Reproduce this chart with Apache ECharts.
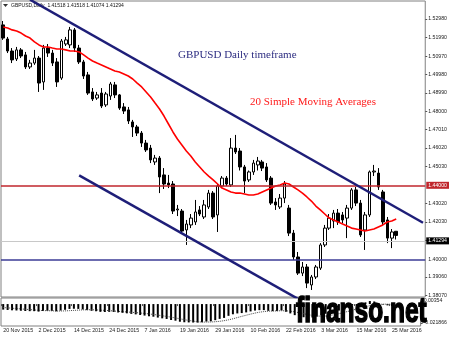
<!DOCTYPE html>
<html>
<head>
    <meta charset="utf-8">
    <style type="text/css">
        html,body { margin: 0px; padding: 0px; background: #fff; }
        #main { width: 450px; height: 337px; }
    </style>
    <script src="https://cdn.jsdelivr.net/npm/echarts@6/dist/echarts.min.js"></script>
</head>
<body>
<div id="main"></div>
<script type="text/javascript">
// trading days shown on the chart
var dates = ['20 Nov 2015','23 Nov 2015','24 Nov 2015','25 Nov 2015','26 Nov 2015','27 Nov 2015','30 Nov 2015',
    '1 Dec 2015','2 Dec 2015','3 Dec 2015','4 Dec 2015','7 Dec 2015','8 Dec 2015','9 Dec 2015','10 Dec 2015','11 Dec 2015',
    '14 Dec 2015','15 Dec 2015','16 Dec 2015','17 Dec 2015','18 Dec 2015','21 Dec 2015','22 Dec 2015','23 Dec 2015','24 Dec 2015',
    '28 Dec 2015','29 Dec 2015','30 Dec 2015','31 Dec 2015',
    '4 Jan 2016','5 Jan 2016','6 Jan 2016','7 Jan 2016','8 Jan 2016','11 Jan 2016','12 Jan 2016','13 Jan 2016','14 Jan 2016',
    '15 Jan 2016','18 Jan 2016','19 Jan 2016','20 Jan 2016','21 Jan 2016','22 Jan 2016','25 Jan 2016','26 Jan 2016','27 Jan 2016',
    '28 Jan 2016','29 Jan 2016',
    '1 Feb 2016','2 Feb 2016','3 Feb 2016','4 Feb 2016','5 Feb 2016','8 Feb 2016','9 Feb 2016','10 Feb 2016','11 Feb 2016',
    '12 Feb 2016','15 Feb 2016','16 Feb 2016','17 Feb 2016','18 Feb 2016','19 Feb 2016','22 Feb 2016','23 Feb 2016','24 Feb 2016',
    '25 Feb 2016','26 Feb 2016','29 Feb 2016',
    '1 Mar 2016','2 Mar 2016','3 Mar 2016','4 Mar 2016','7 Mar 2016','8 Mar 2016','9 Mar 2016','10 Mar 2016','11 Mar 2016',
    '14 Mar 2016','15 Mar 2016','16 Mar 2016','17 Mar 2016','18 Mar 2016','21 Mar 2016','22 Mar 2016','23 Mar 2016','24 Mar 2016',
    '25 Mar 2016'];
// empty space on the right (chart shift)
var futureDates = ['28 Mar 2016','29 Mar 2016','30 Mar 2016','31 Mar 2016','1 Apr 2016','4 Apr 2016'];

var opens = [1.5266,1.5190,1.5125,1.5082,1.5131,1.5104,1.5039,1.5060,1.5087,1.4958,1.5141,1.5114,1.5066,1.4979,1.5163,
    1.5158,1.5239,1.5141,1.5066,1.4996,1.4904,1.4871,1.4898,1.4834,1.4882,1.4942,1.4888,1.4823,1.4807,1.4742,1.4715,
    1.4682,1.4628,1.4601,1.4526,1.4547,1.4456,1.4412,1.4407,1.4267,1.4261,1.4159,1.4186,1.4202,1.4267,1.4229,1.4283,
    1.4358,1.4240,1.4396,1.4439,1.4402,1.4601,1.4585,1.4499,1.4429,1.4472,1.4510,1.4526,1.4499,1.4439,1.4310,1.4283,
    1.4331,1.4277,1.4142,1.4013,1.3926,1.3959,1.3862,1.3905,1.3953,1.4078,1.4169,1.4207,1.4250,1.4240,1.4223,1.4277,
    1.4375,1.4304,1.4159,1.4240,1.4472,1.4466,1.4364,1.4213,1.4115,1.41518];
var highs = [1.5287,1.5201,1.5141,1.5147,1.5141,1.5120,1.5077,1.5131,1.5098,1.5158,1.5163,1.5131,1.5087,1.5190,1.5201,
    1.5255,1.5249,1.5158,1.5077,1.5012,1.4925,1.4904,1.4925,1.4904,1.4958,1.4958,1.4893,1.4844,1.4823,1.4753,1.4726,
    1.4693,1.4645,1.4618,1.4564,1.4558,1.4493,1.4456,1.4423,1.4294,1.4272,1.4213,1.4245,1.4321,1.4288,1.4321,1.4375,
    1.4369,1.4407,1.4450,1.4450,1.4655,1.4672,1.4601,1.4510,1.4480,1.4537,1.4553,1.4537,1.4520,1.4450,1.4331,1.4353,
    1.4423,1.4294,1.4159,1.4040,1.3986,1.3975,1.3916,1.3970,1.4088,1.4186,1.4245,1.4267,1.4272,1.4256,1.4294,1.4385,
    1.4391,1.4321,1.4256,1.4480,1.4510,1.4493,1.4375,1.4229,1.4164,1.41518];
var lows = [1.5185,1.5114,1.5060,1.5071,1.5087,1.5028,1.5028,1.5050,1.4904,1.4915,1.5093,1.5044,1.4931,1.4969,1.5152,
    1.5141,1.5120,1.5055,1.4974,1.4888,1.4855,1.4861,1.4817,1.4823,1.4861,1.4871,1.4807,1.4785,1.4731,1.4661,1.4666,
    1.4607,1.4580,1.4520,1.4510,1.4358,1.4380,1.4385,1.4245,1.4234,1.4137,1.4078,1.4169,1.4186,1.4234,1.4218,1.4272,
    1.4218,1.4148,1.4385,1.4396,1.4391,1.4569,1.4480,1.4358,1.4418,1.4456,1.4480,1.4477,1.4418,1.4294,1.4267,1.4272,
    1.4304,1.4126,1.3997,1.3916,1.3910,1.3845,1.3835,1.3894,1.3943,1.4067,1.4159,1.4169,1.4186,1.4196,1.4115,1.4267,
    1.4288,1.4121,1.4051,1.4229,1.4450,1.4375,1.4186,1.4088,1.4061,1.41074];
var closes = [1.5195,1.5125,1.5077,1.5131,1.5098,1.5039,1.5060,1.5087,1.4952,1.5141,1.5114,1.5060,1.4958,1.5179,1.5185,
    1.5239,1.5141,1.5066,1.4990,1.4898,1.4866,1.4888,1.4828,1.4893,1.4947,1.4888,1.4817,1.4801,1.4747,1.4715,1.4682,
    1.4628,1.4591,1.4537,1.4547,1.4445,1.4407,1.4402,1.4261,1.4272,1.4153,1.4191,1.4223,1.4256,1.4245,1.4294,1.4358,
    1.4229,1.4396,1.4439,1.4407,1.4601,1.4580,1.4499,1.4423,1.4472,1.4520,1.4531,1.4493,1.4429,1.4304,1.4294,1.4331,
    1.4407,1.4142,1.4013,1.3926,1.3959,1.3872,1.3905,1.3959,1.4078,1.4169,1.4223,1.4250,1.4202,1.4213,1.4277,1.4375,
    1.4304,1.4132,1.4240,1.4472,1.4477,1.4391,1.4202,1.4115,1.4148,1.41294];
// 20 SMA
var sma20 = [1.5255,1.5249,1.5239,1.5233,1.5222,1.5206,1.5195,1.5174,1.5158,1.5147,1.5147,1.5141,1.5136,1.5136,1.5131,
    1.5125,1.5125,1.5120,1.5104,1.5087,1.5071,1.5060,1.5050,1.5039,1.5028,1.5017,1.5012,1.5001,1.4990,1.4974,1.4952,
    1.4931,1.4904,1.4877,1.4844,1.4812,1.4774,1.4731,1.4688,1.4650,1.4618,1.4585,1.4558,1.4526,1.4499,1.4472,1.4450,
    1.4429,1.4407,1.4385,1.4375,1.4364,1.4358,1.4358,1.4353,1.4348,1.4348,1.4353,1.4364,1.4375,1.4385,1.4396,1.4402,
    1.4412,1.4407,1.4391,1.4375,1.4358,1.4337,1.4315,1.4288,1.4267,1.4245,1.4223,1.4213,1.4202,1.4191,1.4180,1.4169,
    1.4164,1.4159,1.4153,1.4159,1.4164,1.4175,1.4186,1.4202,1.4207,1.4218];
// oscillator sub-window
var oscHist = [-0.0064,-0.0068,-0.0072,-0.0074,-0.0077,-0.0080,-0.0082,-0.0082,-0.0087,-0.0080,-0.0078,-0.0079,-0.0084,
    -0.0074,-0.0066,-0.0056,-0.0054,-0.0056,-0.0062,-0.0070,-0.0078,-0.0083,-0.0090,-0.0092,-0.0090,-0.0092,-0.0097,
    -0.0101,-0.0107,-0.0113,-0.0119,-0.0126,-0.0133,-0.0141,-0.0146,-0.0156,-0.0165,-0.0172,-0.0184,-0.0192,-0.0204,
    -0.0210,-0.0212,-0.0213,-0.0214,-0.0210,-0.0202,-0.0199,-0.0186,-0.0171,-0.0160,-0.0136,-0.0118,-0.0108,-0.0104,
    -0.0096,-0.0085,-0.0075,-0.0070,-0.0070,-0.0078,-0.0082,-0.0081,-0.0074,-0.0089,-0.0108,-0.0128,-0.0139,-0.0152,
    -0.0157,-0.0155,-0.0145,-0.0129,-0.0112,-0.0095,-0.0085,-0.0075,-0.0063,-0.0030,-0.0018,-0.0020,-0.0012,0.0020,
    0.0035,0.0030,0.0012,-0.0006,-0.0015,-0.0022];
var oscSignal = [-0.0040,-0.0044,-0.0048,-0.0052,-0.0056,-0.0060,-0.0064,-0.0068,-0.0072,-0.0075,-0.0077,-0.0078,-0.0080,
    -0.0080,-0.0079,-0.0076,-0.0073,-0.0070,-0.0067,-0.0066,-0.0066,-0.0068,-0.0070,-0.0073,-0.0076,-0.0080,-0.0084,
    -0.0088,-0.0091,-0.0095,-0.0099,-0.0103,-0.0108,-0.0114,-0.0120,-0.0127,-0.0135,-0.0143,-0.0151,-0.0160,-0.0170,
    -0.0180,-0.0189,-0.0197,-0.0204,-0.0208,-0.0208,-0.0207,-0.0204,-0.0199,-0.0192,-0.0182,-0.0170,-0.0156,-0.0142,
    -0.0129,-0.0116,-0.0104,-0.0094,-0.0087,-0.0082,-0.0080,-0.0079,-0.0077,-0.0078,-0.0082,-0.0090,-0.0100,-0.0111,
    -0.0122,-0.0131,-0.0138,-0.0140,-0.0138,-0.0132,-0.0122,-0.0111,-0.0099,-0.0085,-0.0070,-0.0058,-0.0045,-0.0032,
    -0.0018,-0.0008,-0.0003,-0.0001,-0.0001,-0.0002];

// price scale labels (MT4 style) and sub-window labels
var priceTicks = [1.52980,1.51990,1.50970,1.49980,1.48990,1.48000,1.47010,1.46020,1.45030,1.43020,1.42030,1.41040,1.39060,1.38070];
var oscTicks = [0.00354, -0.021866];

// drawn objects: trend lines [barIndex, price], horizontal levels
var upperTrend = [[6, 1.5402], [94, 1.4198]];
var lowerTrend = [[17, 1.4454], [66, 1.3787]];
var resistance = 1.44000;
var support = 1.40000;
var lastPrice = 1.41294;

var cats = dates.concat(futureDates);
var candles = [];
for (var i = 0; i < dates.length; i++) {
    candles.push([opens[i], closes[i], lows[i], highs[i]]);
}
function every8(idx) { return idx % 8 === 0; }

var chart = echarts.init(document.getElementById('main'));
var axisFont = 'Liberation Sans, Arial, sans-serif';

var option = {
    animation: false,
    backgroundColor: '#ffffff',
    grid: [
        { left: 1, top: 1, width: 425, height: 296, show: true, borderColor: '#808080', borderWidth: 1 },
        { left: 1, top: 298, width: 425, height: 28, show: true, borderColor: '#808080', borderWidth: 1 }
    ],
    xAxis: [
        { type: 'category', gridIndex: 0, data: cats, boundaryGap: true,
          axisLine: { show: false }, axisTick: { show: false }, axisLabel: { show: false }, splitLine: { show: false } },
        { type: 'category', gridIndex: 1, data: cats, boundaryGap: true,
          axisLine: { show: false },
          axisTick: { show: true, interval: every8, length: 2, lineStyle: { color: '#555' } },
          axisLabel: { interval: every8, align: 'left', fontSize: 5.3, color: '#222', margin: 2, fontFamily: axisFont },
          splitLine: { show: false } }
    ],
    yAxis: [
        { type: 'value', gridIndex: 0, position: 'right', min: 1.3797, max: 1.5395, scale: true,
          axisLine: { show: false }, splitLine: { show: false },
          axisTick: { show: true, customValues: priceTicks, length: 2, lineStyle: { color: '#555' } },
          axisLabel: { customValues: priceTicks, fontSize: 5.2, color: '#222', margin: 3, fontFamily: axisFont,
                       formatter: function (v) { return v.toFixed(5); } } },
        { type: 'value', gridIndex: 1, position: 'right', min: -0.02533, max: 0.0070,
          axisLine: { show: false }, splitLine: { show: false },
          axisTick: { show: true, customValues: oscTicks, length: 2, lineStyle: { color: '#555' } },
          axisLabel: { customValues: oscTicks, fontSize: 5.2, color: '#222', margin: 3, fontFamily: axisFont,
                       formatter: function (v) { return String(v); } } }
    ],
    series: [
        {
            type: 'candlestick', xAxisIndex: 0, yAxisIndex: 0, data: candles, barWidth: 3, z: 3,
            itemStyle: { color: '#ffffff', color0: '#000000', borderColor: '#000000', borderColor0: '#000000', borderWidth: 1 }
        },
        {
            name: 'SMA20', type: 'line', xAxisIndex: 0, yAxisIndex: 0, data: sma20, symbol: 'none', z: 4,
            lineStyle: { color: '#ff0000', width: 1.6 },
            markLine: {
                silent: true, symbol: 'none', animation: false,
                data: [
                    { yAxis: lastPrice, lineStyle: { color: '#c8c8c8', width: 1, type: 'solid' },
                      label: { show: true, position: 'end', formatter: '1.41294', color: '#fff', backgroundColor: '#000',
                               padding: [1, 2], fontSize: 5.2, distance: 1, fontFamily: axisFont } },
                    { yAxis: resistance, lineStyle: { color: '#c0262c', width: 1.6, type: 'solid' },
                      label: { show: true, position: 'end', formatter: '1.44000', color: '#fff', backgroundColor: '#c0262c',
                               padding: [1, 2], fontSize: 5.2, distance: 1, fontFamily: axisFont } },
                    { yAxis: support, lineStyle: { color: '#3b3b96', width: 1.6, type: 'solid' },
                      label: { show: true, position: 'end', formatter: '1.40000', color: '#222',
                               padding: [1, 2], fontSize: 5.2, distance: 1, fontFamily: axisFont } }
                ]
            }
        },
        {
            type: 'line', xAxisIndex: 0, yAxisIndex: 0, data: upperTrend, symbol: 'none', silent: true, z: 5,
            lineStyle: { color: '#1e1e78', width: 2.5 }
        },
        {
            type: 'line', xAxisIndex: 0, yAxisIndex: 0, data: lowerTrend, symbol: 'none', silent: true, z: 5,
            lineStyle: { color: '#1e1e78', width: 2.5 }
        },
        {
            type: 'bar', xAxisIndex: 1, yAxisIndex: 1, data: oscHist, barWidth: 2,
            itemStyle: { color: '#000000' }
        },
        {
            type: 'line', xAxisIndex: 1, yAxisIndex: 1, data: oscSignal, symbol: 'none', z: 4,
            lineStyle: { color: '#444', width: 1, type: 'dotted' }
        }
    ],
    graphic: [
        { type: 'polygon', shape: { points: [[3, 4], [8, 4], [5.5, 7]] }, style: { fill: '#333' } },
        { type: 'text', x: 11, y: 5.5, style: { text: 'GBPUSD,Daily  1.41518 1.41518 1.41074 1.41294',
            fontSize: 5, fill: '#111', fontFamily: axisFont, verticalAlign: 'middle' } },
        { type: 'text', x: 178, y: 55, style: { text: 'GBPUSD Daily timeframe', fontSize: 11,
            fill: '#2b2b80', fontFamily: 'Liberation Serif, Times New Roman, serif', verticalAlign: 'middle' } },
        { type: 'text', x: 250, y: 102, style: { text: '20 Simple Moving Averages', fontSize: 11,
            fill: '#ff1a1a', fontFamily: 'Liberation Serif, Times New Roman, serif', verticalAlign: 'middle' } },
        { type: 'text', x: 296, y: 312, scaleX: 0.7, z: 100, style: { text: 'finanso.net', fontSize: 35,
            fontWeight: 'bold', fill: '#000', stroke: '#000', lineWidth: 1.6,
            fontFamily: 'Liberation Sans, Arial, sans-serif', verticalAlign: 'middle' } }
    ]
};

chart.setOption(option);
window.onresize = chart.resize;
</script>
</body>
</html>
